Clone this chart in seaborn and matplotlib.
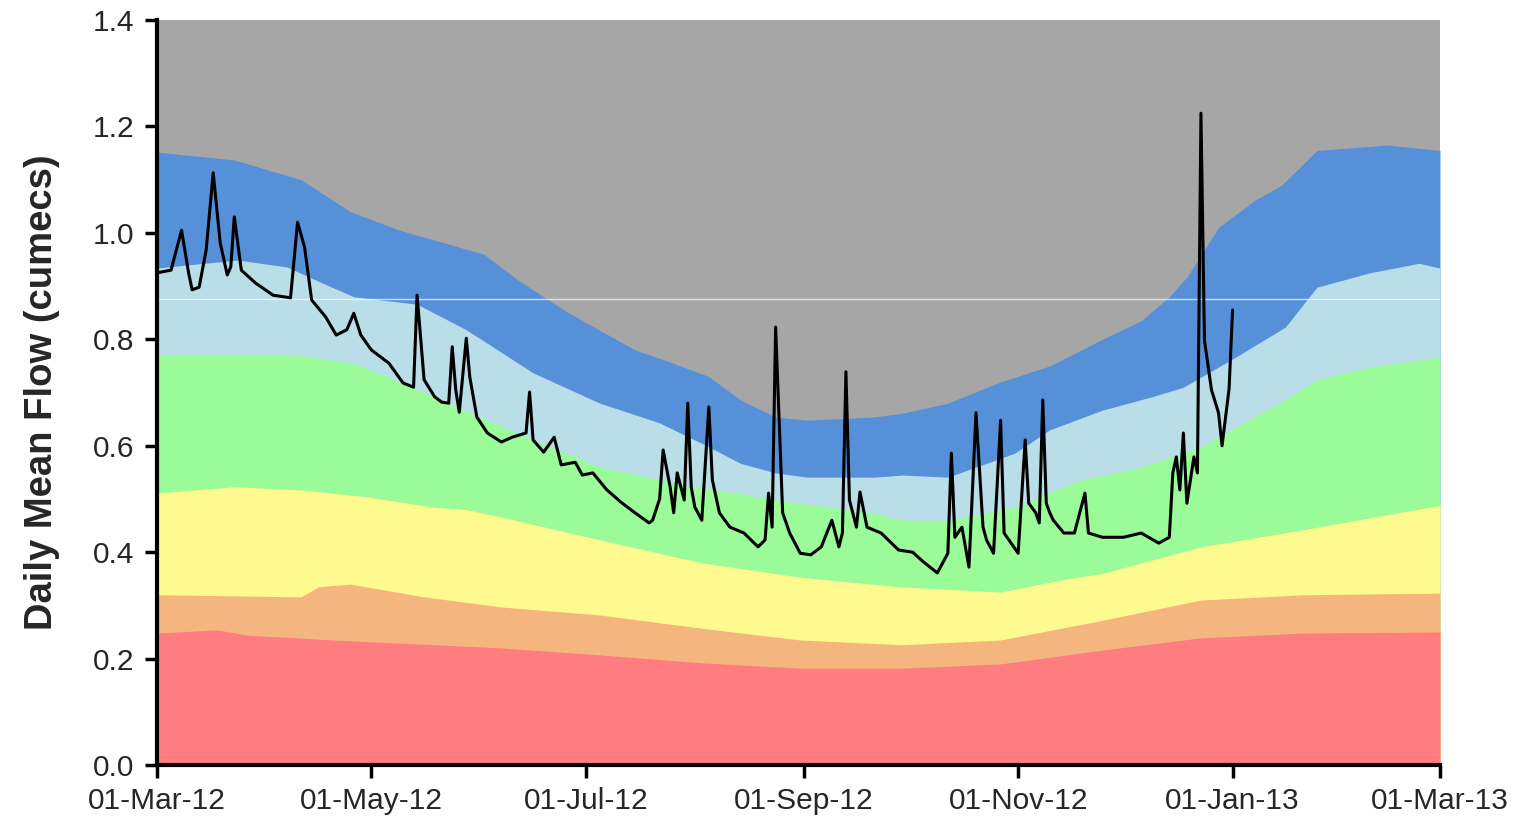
import numpy as np
import pandas as pd
import matplotlib
matplotlib.use("Agg")
import matplotlib.pyplot as plt
import matplotlib.dates as mdates
import seaborn as sns

# Daily mean flow, days counted from 01-Mar-12
flow_day = [0, 4, 7, 9, 10, 12, 14, 16, 18, 20, 21, 22, 24, 28, 33, 38, 40, 42, 44, 48,
            51, 54, 56, 58, 61, 66, 70, 73, 74, 76, 79, 81, 83, 84, 85, 86, 88, 89, 91, 94,
            98, 101, 105, 106, 107, 110, 113, 115, 119, 121, 124, 128, 132, 136, 140, 141, 143, 144, 146, 147,
            148, 150, 151, 152, 153, 155, 157, 158, 160, 163, 167, 171, 173, 174, 175, 176, 178, 180, 183, 186,
            189, 192, 194, 195, 196, 197, 199, 200, 202, 206, 211, 215, 218, 222, 225, 226, 227, 229, 231, 233,
            235, 236, 238, 240, 241, 243, 245, 247, 248, 250, 251, 252, 253, 254, 255, 258, 261, 264, 265, 269,
            275, 280, 285, 288, 289, 290, 291, 292, 293, 295, 296, 297, 298, 300, 302, 303, 305, 306]
flow_cumecs = [0.925, 0.930, 1.005, 0.925, 0.893, 0.898, 0.968, 1.113, 0.981, 0.921, 0.936, 1.030, 0.930, 0.906, 0.883, 0.878, 1.020, 0.973, 0.874, 0.842,
               0.808, 0.818, 0.849, 0.808, 0.780, 0.755, 0.718, 0.710, 0.883, 0.724, 0.692, 0.682, 0.680, 0.786, 0.705, 0.663, 0.802, 0.729, 0.654, 0.624,
               0.607, 0.616, 0.624, 0.701, 0.611, 0.588, 0.616, 0.564, 0.569, 0.545, 0.549, 0.517, 0.494, 0.474, 0.455, 0.460, 0.500, 0.592, 0.522, 0.474,
               0.549, 0.498, 0.680, 0.522, 0.485, 0.460, 0.673, 0.536, 0.474, 0.447, 0.436, 0.410, 0.423, 0.511, 0.447, 0.823, 0.474, 0.436, 0.398, 0.395,
               0.410, 0.460, 0.410, 0.436, 0.739, 0.498, 0.447, 0.513, 0.447, 0.436, 0.404, 0.400, 0.382, 0.361, 0.398, 0.586, 0.428, 0.447, 0.372, 0.662,
               0.447, 0.423, 0.398, 0.648, 0.436, 0.417, 0.398, 0.611, 0.492, 0.474, 0.455, 0.686, 0.492, 0.474, 0.460, 0.436, 0.436, 0.511, 0.436, 0.428,
               0.428, 0.436, 0.417, 0.428, 0.549, 0.579, 0.517, 0.624, 0.492, 0.579, 0.549, 1.225, 0.798, 0.705, 0.662, 0.600, 0.707, 0.855]

# Flow bands: upper edge of each band (cumecs), days from 01-Mar-12
blue_day = [0, 22, 41, 55, 69, 93, 103, 117, 126, 136, 144, 157, 166, 176, 185, 204, 212, 225, 240,
            254, 269, 280, 288, 293, 302, 312, 320, 330, 350, 365]
blue_top = [1.152, 1.137, 1.10, 1.04, 1.005, 0.96, 0.91, 0.85, 0.817, 0.78, 0.762, 0.73, 0.686, 0.654, 0.648, 0.654, 0.661, 0.68, 0.72,
            0.75, 0.80, 0.835, 0.88, 0.917, 1.01, 1.06, 1.09, 1.155, 1.165, 1.155]

lblue_day = [0, 9, 23, 37, 47, 56, 74, 88, 107, 126, 143, 157, 166, 176, 185, 204, 212, 225, 244,
             254, 269, 283, 292, 307, 321, 330, 345, 359, 365]
lblue_top = [0.934, 0.94, 0.949, 0.936, 0.906, 0.88, 0.866, 0.818, 0.737, 0.68, 0.643, 0.598, 0.567, 0.549, 0.541, 0.541, 0.545, 0.541, 0.586,
             0.63, 0.667, 0.692, 0.71, 0.767, 0.823, 0.898, 0.925, 0.943, 0.934]

green_day = [0, 20, 40, 56, 69, 88, 107, 126, 143, 176, 204, 212, 225, 244, 263, 280, 297, 307, 321, 330, 345, 365]
green_top = [0.77, 0.77, 0.77, 0.755, 0.72, 0.665, 0.611, 0.56, 0.536, 0.498, 0.474, 0.46, 0.46, 0.485, 0.536, 0.56, 0.598, 0.635, 0.686, 0.724, 0.748, 0.767]

yellow_day = [0, 22, 41, 60, 78, 88, 98, 126, 155, 183, 211, 240, 259, 269, 297, 326, 365]
yellow_top = [0.511, 0.523, 0.517, 0.504, 0.485, 0.48, 0.466, 0.423, 0.38, 0.353, 0.335, 0.325, 0.35, 0.36, 0.41, 0.442, 0.488]

orange_day = [0, 41, 46, 55, 76, 98, 126, 155, 183, 212, 240, 269, 297, 326, 365]
orange_top = [0.32, 0.316, 0.335, 0.34, 0.316, 0.297, 0.282, 0.257, 0.235, 0.226, 0.235, 0.272, 0.31, 0.32, 0.323]

red_day = [0, 17, 26, 50, 79, 98, 126, 155, 183, 212, 240, 269, 297, 326, 365]
red_top = [0.248, 0.254, 0.244, 0.235, 0.226, 0.22, 0.207, 0.192, 0.182, 0.182, 0.19, 0.216, 0.239, 0.248, 0.25]

y_ticks = [0.0, 0.2, 0.4, 0.6, 0.8, 1.0, 1.2, 1.4]
x_tick_dates = ["2012-03-01", "2012-05-01", "2012-07-01", "2012-09-01", "2012-11-01", "2013-01-01", "2013-03-01"]

start = pd.Timestamp("2012-03-01")


def to_dates(days):
    return start + pd.to_timedelta(days, unit="D")


sns.set_style("white")
plt.rcParams["font.family"] = ["Liberation Sans", "DejaVu Sans"]

fig = plt.figure(figsize=(15.18, 8.19), dpi=100)
ax = fig.add_axes([0.1034, 0.0659, 0.8452, 0.9096])
ax.set_facecolor("#A6A6A6")

# stacked bands, drawn from the top band downwards
bands = [
    (blue_day, blue_top, "#5590D8"),
    (lblue_day, lblue_top, "#B9DEE8"),
    (green_day, green_top, "#9BFB98"),
    (yellow_day, yellow_top, "#FFFA8F"),
    (orange_day, orange_top, "#F5B57F"),
    (red_day, red_top, "#FF7C80"),
]
for days, top, col in bands:
    ax.fill_between(to_dates(days), top, 0, color=col, linewidth=0)

ax.axhline(0.875, color="white", lw=1, alpha=0.7)

flow = pd.DataFrame({"date": to_dates(flow_day), "flow": flow_cumecs})
sns.lineplot(data=flow, x="date", y="flow", color="black", linewidth=2.2, ax=ax)

ax.set_xlim(pd.Timestamp(x_tick_dates[0]), pd.Timestamp(x_tick_dates[-1]))
ax.set_ylim(0, 1.4)
ax.set_yticks(y_ticks)
ax.set_yticklabels([f"{v:.1f}" for v in y_ticks])
ax.set_xticks(pd.to_datetime(x_tick_dates))
ax.xaxis.set_major_formatter(mdates.DateFormatter("%d-%b-%y"))

ax.set_xlabel("")
ax.set_ylabel("Daily Mean Flow (cumecs)", fontsize=27.5, fontweight="bold", labelpad=24)
ax.tick_params(axis="both", labelsize=21.5, length=9, width=2.5, direction="out",
               color="black", bottom=True, left=True, pad=7)

for side in ["top", "right"]:
    ax.spines[side].set_visible(False)
for side in ["left", "bottom"]:
    ax.spines[side].set_color("black")
    ax.spines[side].set_linewidth(3)

fig.savefig("out.png", dpi=100)
